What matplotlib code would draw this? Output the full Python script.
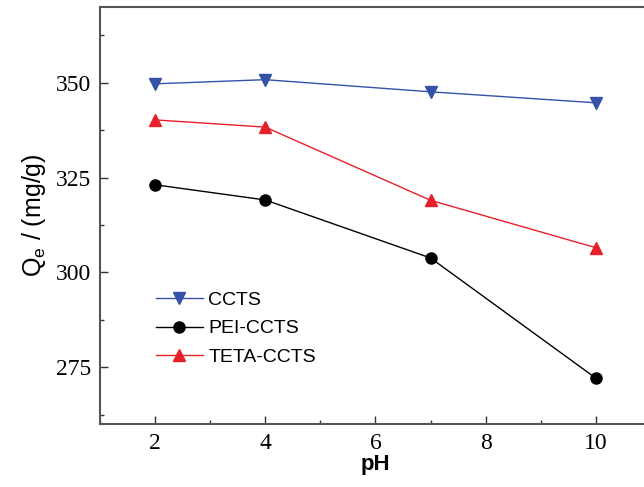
import matplotlib
matplotlib.use("Agg")
import matplotlib.pyplot as plt
from matplotlib.ticker import MultipleLocator

# adsorption capacity vs pH
ph = [2, 4, 7, 10]
ccts = [349.7, 350.8, 347.6, 344.7]
pei_ccts = [323.1, 319.1, 303.8, 272.1]
teta_ccts = [340.2, 338.3, 319.0, 306.5]

fig = plt.figure(figsize=(6.44, 4.87), dpi=100)
ax = fig.add_axes([0.155, 0.129, 0.856, 0.857])

ax.plot(ph, ccts, color="#3352a8", marker="v", markersize=9, lw=1, label="CCTS")
ax.plot(ph, pei_ccts, color="black", marker="o", markersize=8, lw=1, label="PEI-CCTS")
ax.plot(ph, teta_ccts, color="#e8202a", marker="^", markersize=9, lw=1, label="TETA-CCTS")

ax.set_xlim(1, 11)
ax.set_ylim(260, 370)
ax.xaxis.set_major_locator(MultipleLocator(2))
ax.xaxis.set_minor_locator(MultipleLocator(1))
ax.yaxis.set_major_locator(MultipleLocator(25))
ax.yaxis.set_minor_locator(MultipleLocator(12.5))
ax.tick_params(which="both", direction="in", top=False, right=False,
               labelsize=17, pad=6, color="#333333")
ax.tick_params(which="major", length=6, width=1)
ax.tick_params(which="minor", length=3, width=1)
for lab in ax.get_xticklabels() + ax.get_yticklabels():
    lab.set_family("Liberation Serif")

for s in ax.spines.values():
    s.set_linewidth(1.5)
    s.set_color("#555555")

ax.set_xlabel("pH", fontsize=16, fontweight="bold", family="Liberation Sans", labelpad=0)
ax.set_ylabel(r"$\mathregular{Q_e}$ / (mg/g)", fontsize=18, family="Liberation Sans", labelpad=6)

ax.legend(loc="upper left", bbox_to_anchor=(0.07, 0.36), frameon=False,
          prop={"family": "Liberation Sans", "size": 14},
          handlelength=2.4, handletextpad=0.3, labelspacing=0.55)

fig.savefig("out.png", dpi=100)
